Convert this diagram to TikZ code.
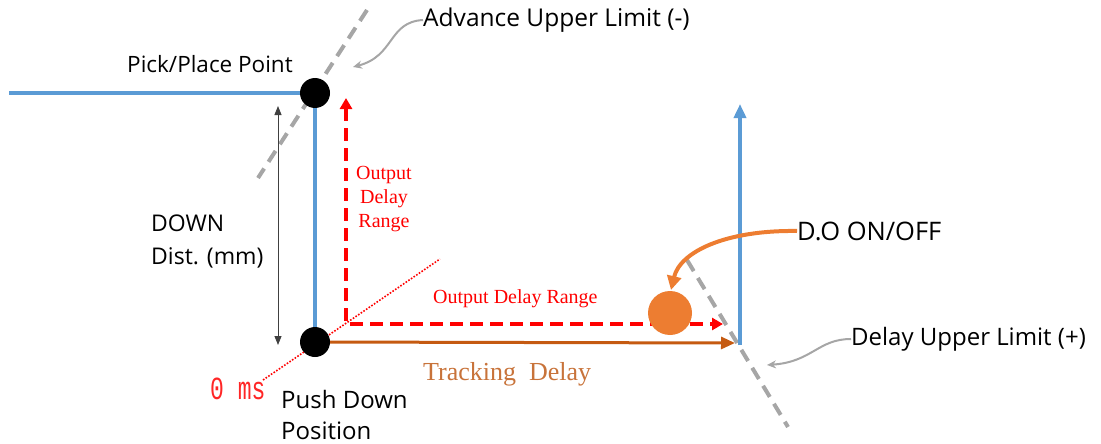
\documentclass[tikz,border=0pt]{standalone}
\usepackage{fontspec}
\usepackage{graphicx}
\setmainfont{Open Sans}
\newfontfamily\timesfam{Liberation Serif}
\newfontfamily\monofam{Liberation Mono}
\usetikzlibrary{arrows.meta}
\definecolor{lblue}{HTML}{5B9BD5}
\definecolor{dorange}{HTML}{C55A11}
\definecolor{lorange}{HTML}{ED7D31}
\definecolor{tgray}{HTML}{A6A6A6}
\definecolor{torange}{HTML}{C8733A}
\begin{document}
\begin{tikzpicture}[x=1pt,y=-1pt,
  lbl/.style={font=\fontsize{24}{31}\selectfont, text=black, inner sep=0pt},
  redlbl/.style={font=\timesfam\fontsize{20}{24}\selectfont, text=red, inner sep=0pt},
  dot/.style={circle, fill=black, minimum size=30pt, inner sep=0pt},
  blueline/.style={draw=lblue, line width=4pt},
  reddash/.style={draw=red, line width=4pt, dash pattern=on 13pt off 7pt},
  graydash/.style={draw=tgray, line width=4pt, dash pattern=on 13pt off 8pt},
  graycurve/.style={draw=tgray, line width=2pt, -{Stealth[length=9pt,width=8pt]}},
]
\useasboundingbox (0,0) rectangle (1101,444);

% gray dashed limit lines
\draw[graydash] (367,10) -- (258,178);
\draw[graydash] (687,260) -- (788,427);

% red dotted 0 ms line
\draw[red, line width=1.6pt, dash pattern=on 1.6pt off 1.6pt] (263,380) -- (440,259);

% coordinates
\coordinate (lstart) at (9,93);
\coordinate (rtop) at (346,98);
\coordinate (rright) at (723,324);
\coordinate (otip) at (735,343);
\coordinate (bbot) at (740,345);
\coordinate (btop) at (740,104);
\coordinate (dtop) at (278,106);
\coordinate (dbot) at (278,345);

% blue path
\node[dot] (pick) at (315,93) {};
\node[dot] (push) at (315,342) {};
\draw[blueline] (lstart) -- (pick.west);
\draw[blueline] (pick.south) -- (push.north);
\draw[blueline, -{Triangle[length=14pt,width=12pt]}] (bbot) -- (btop);

% red dashed output delay range
\draw[reddash, {Triangle[length=11pt,width=12pt]}-{Triangle[length=11pt,width=12pt]}] (rtop) |- (rright);

% orange tracking line
\draw[dorange, line width=3pt, -{Triangle[length=14pt,width=12pt]}] (push) -- (otip);

% D.O dot
\node[circle, fill=lorange, minimum size=44pt, inner sep=0pt] (dodot) at (670,313) {};

% down distance double arrow
\draw[black!75, line width=0.9pt, {Triangle[length=9pt,width=7pt]}-{Triangle[length=9pt,width=7pt]}] (dtop) -- (dbot);

% labels
\node[lbl, font=\fontsize{22.5}{27}\selectfont] (pp) at (210,64) {Pick/Place Point};
\node[lbl, anchor=west, font=\fontsize{24.5}{29}\selectfont] (adv) at (423,20) {Advance Upper Limit (-)};
\node[lbl, anchor=west, align=left, font=\fontsize{23}{33}\selectfont] (down) at (151,241) {DOWN\\Dist. (mm)};
\node[lbl, anchor=west, align=left] (pdp) at (281,415) {Push Down\\Position};
\node[lbl, anchor=west, font=\fontsize{25.5}{30}\selectfont] (do) at (797,231) {D.O ON/OFF};
\node[lbl, anchor=west] (dul) at (851,339) {Delay Upper Limit (+)};
\node[redlbl, align=center] (odr1) at (384,199) {Output\\Delay\\Range};
\node[redlbl, anchor=west] (odr2) at (433,299) {Output Delay Range};
\node[font=\timesfam\fontsize{26}{30}\selectfont, text=torange, inner sep=0pt, anchor=west] (td) at (423,374) {Tracking\ \ Delay};
\node[font=\monofam\fontsize{23}{28}\selectfont, text=red!85, inner sep=0pt, anchor=west] (zero) at (210,389) {\scalebox{1}[1.4]{0 ms}};

% callout arrows
\draw[graycurve] (adv.west) .. controls (388,22) and (395,56) .. (353,67);
\draw[graycurve] (dul.west) .. controls (818,339) and (812,362) .. (767,365);
\draw[lorange, line width=4pt, -{Triangle[length=14pt,width=14pt]}] (do.west) .. controls (725,230) and (680,252) .. (671,290);
\end{tikzpicture}
\end{document}
